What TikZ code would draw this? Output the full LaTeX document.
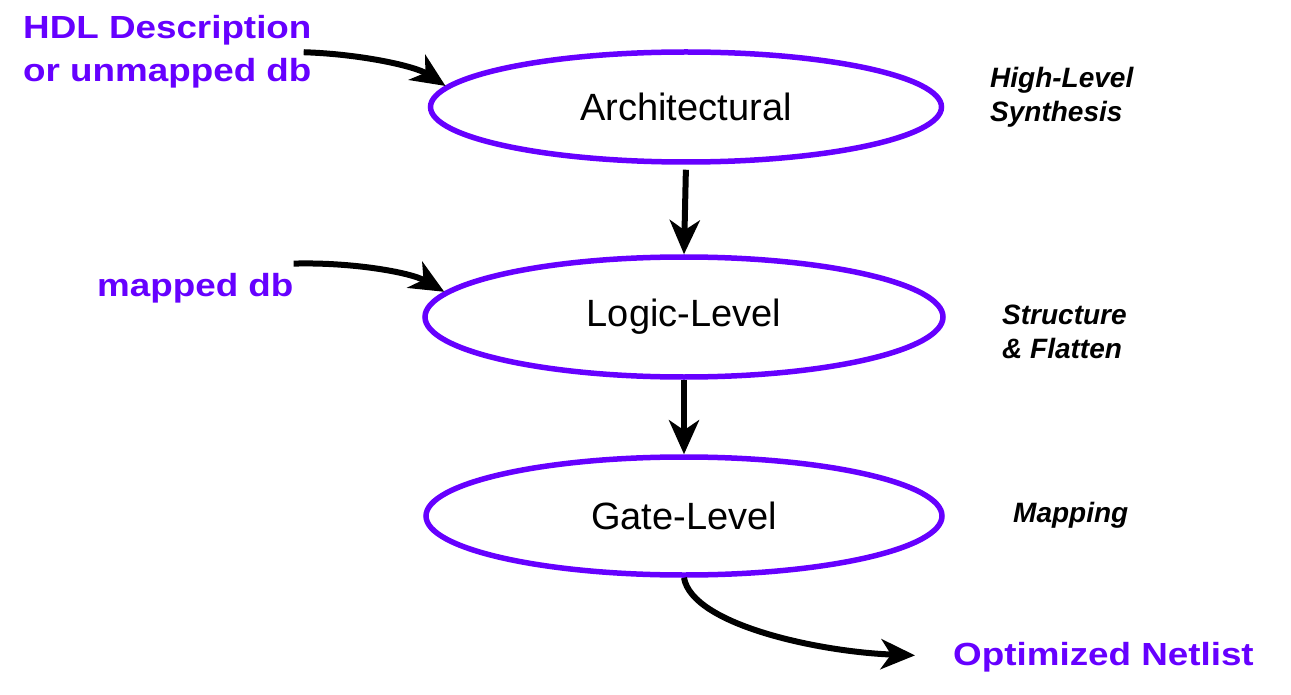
\documentclass[tikz,border=0pt]{standalone}
\usepackage{fontspec}
\setmainfont{Liberation Sans}
\newfontfamily\bluefont[FakeStretch=1.15]{Liberation Sans}
\usetikzlibrary{shapes.geometric,arrows.meta}
\definecolor{hdlblue}{RGB}{102,0,255}
\begin{document}
\begin{tikzpicture}[x=1pt,y=-1pt,
  level/.style={ellipse, draw=hdlblue, line width=5.5pt, inner sep=0pt,
    font=\fontsize{38}{42}\selectfont},
  inlabel/.style={text=hdlblue, font=\bluefont\bfseries\fontsize{32}{43}\selectfont,
    inner sep=0pt, align=left, anchor=base west},
  phase/.style={font=\bfseries\itshape\fontsize{28}{34}\selectfont,
    inner sep=0pt, align=left, anchor=base west},
  flow/.style={line width=6pt, -{Stealth[length=34pt,width=30pt,inset=10pt]}}]
\fill[white] (0,0) rectangle (1291,695);
\useasboundingbox (0,0) rectangle (1291,695);

\node[level, minimum width=511pt, minimum height=110pt] (arch) at (686,107) {Architectural};
\node[level, minimum width=518pt, minimum height=120pt] (logic) at (684,317) {Logic-Level};
\node[level, minimum width=516pt, minimum height=118pt] (gate) at (684,516) {Gate-Level};

\node[inlabel] (hdl) at (23,82) {HDL Description\\or unmapped db};
\node[inlabel] (mapped) at (97,297) {mapped db};
\node[inlabel] (opt) at (953,665) {Optimized Netlist};

\node[phase] (hls) at (990,122) {High-Level\\Synthesis};
\node[phase] (sf) at (1002,358) {Structure\\\& Flatten};
\node[phase] (map) at (1013,522) {Mapping};

\draw[flow] ([xshift=-8pt]hdl.east) .. controls (360,54) and (415,66) .. (arch.175);
\draw[flow] ([yshift=10pt]mapped.north east) .. controls (350,262) and (410,272) .. (logic.174);
\draw[flow, shorten <=5pt] (arch.south) -- (logic.north);
\draw[flow] (logic.south) -- (gate.north);
\draw[flow, shorten >=38pt] (gate.south) .. controls (692,625) and (820,652) .. (opt.west);
\end{tikzpicture}
\end{document}
